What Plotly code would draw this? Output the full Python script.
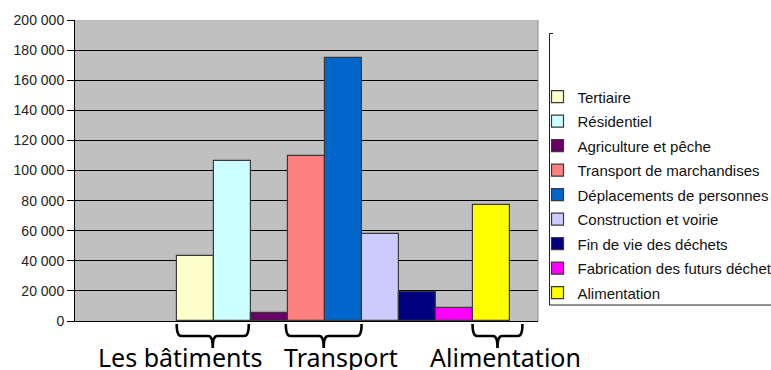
import plotly.graph_objects as go

series = ["Tertiaire", "Résidentiel", "Agriculture et pêche", "Transport de marchandises",
          "Déplacements de personnes", "Construction et voirie", "Fin de vie des déchets",
          "Fabrication des futurs déchets", "Alimentation"]
values = [43500, 106000, 5000, 109500, 175000, 58000, 19500, 8500, 77000]
colors = ["#FFFFCC", "#CCFFFF", "#660066", "#FF8080", "#0066CC", "#CCCCFF",
          "#000080", "#FF00FF", "#FFFF00"]
positions = list(range(len(series)))
y_ticks = list(range(0, 200001, 20000))

group_labels = ["Les bâtiments", "Transport", "Alimentation"]
brace_spans = [(-0.5, 1.45), (2.45, 4.5), (7.5, 8.85)]
label_x = [-0.42, 3.95, 8.4]

W, H = 771, 370
L, R, T, B = 75, 538, 19.5, 321
def py(p):
    return (B - p) / (B - T)
def px(p):
    return (p - L) / (R - L)

fig = go.Figure()
for i, (name, v, c) in enumerate(zip(series, values, colors)):
    fig.add_trace(go.Bar(
        x=[positions[i]], y=[v], name=name, width=1,
        marker=dict(color=c, line=dict(color="#3a3a3a", width=1.2)),
        legendgroup=f"g{i}",
    ))

shapes = []
# right edge of plot area
shapes.append(dict(type="line", xref="paper", yref="paper", x0=1, x1=1, y0=0, y1=1,
                   line=dict(color="#8a8a8a", width=1)))
# legend frame
lx = px(549.5)
shapes.append(dict(type="line", xref="paper", yref="paper", x0=lx, x1=lx, y0=py(305), y1=py(33),
                   line=dict(color="#222", width=1)))
shapes.append(dict(type="line", xref="paper", yref="paper", x0=lx, x1=px(780), y0=py(305), y1=py(305),
                   line=dict(color="#222", width=1)))
shapes.append(dict(type="line", xref="paper", yref="paper", x0=lx, x1=px(553), y0=py(33), y1=py(33),
                   line=dict(color="#222", width=1)))

# braces
ytop, yh, ytip = py(324), py(336), py(348)
r = 0.12
for (x0, x1) in brace_spans:
    xm = (x0 + x1) / 2
    path = (f"M {x0},{ytop} Q {x0},{yh} {x0 + r},{yh} L {xm - r},{yh} "
            f"Q {xm},{yh} {xm},{ytip} Q {xm},{yh} {xm + r},{yh} "
            f"L {x1 - r},{yh} Q {x1},{yh} {x1},{ytop}")
    shapes.append(dict(type="path", xref="x", yref="paper", path=path,
                       line=dict(color="black", width=2.6)))

annotations = []
for lab, x in zip(group_labels, label_x):
    annotations.append(dict(text=lab, x=x, xref="x", y=py(357.5), yref="paper",
                            xanchor="center", yanchor="middle", showarrow=False,
                            font=dict(family="Noto Sans", size=25, color="black")))

fig.update_layout(
    width=W, height=H,
    margin=dict(l=L, r=W - R, t=T, b=H - B, pad=0, autoexpand=False),
    paper_bgcolor="white", plot_bgcolor="#C0C0C0",
    barmode="overlay", bargap=0,
    separators=", ",
    font=dict(family="Liberation Sans", size=14, color="#222"),
    showlegend=True,
    legend=dict(x=px(537.5), y=py(80), xanchor="left", yanchor="top",
                font=dict(family="Liberation Sans", size=15, color="#111"),
                tracegroupgap=2, bgcolor="rgba(0,0,0,0)", borderwidth=0),
    shapes=shapes, annotations=annotations,
)
fig.update_xaxes(range=[-3.25, 9.27], showticklabels=False, ticks="", showgrid=False,
                 zeroline=False, showline=True, linecolor="black", linewidth=1)
fig.update_yaxes(range=[0, 200000], tickvals=y_ticks, tickformat=",d", ticks="outside",
                 ticklen=7, tickcolor="black", showgrid=True, gridcolor="black", gridwidth=1,
                 zeroline=False, showline=True, linecolor="black", linewidth=1)

fig.write_html("out.html")
